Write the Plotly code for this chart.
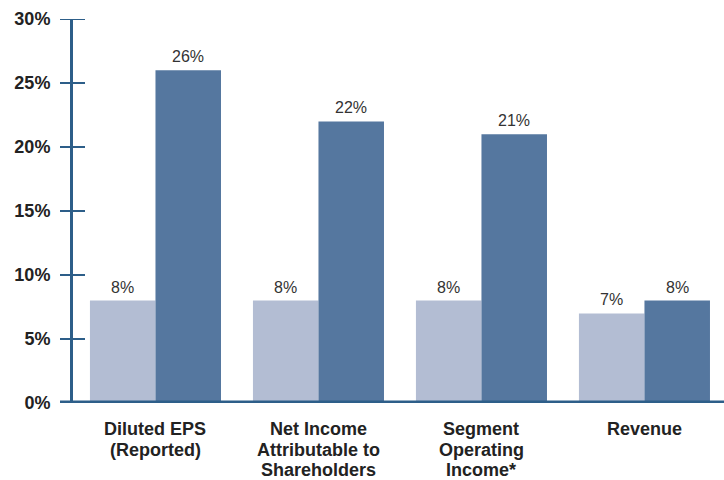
import plotly.graph_objects as go

categories = ["Diluted EPS (Reported)", "Net Income Attributable to Shareholders",
              "Segment Operating Income*", "Revenue"]
category_lines = [["Diluted EPS", "(Reported)"],
                  ["Net Income", "Attributable to", "Shareholders"],
                  ["Segment", "Operating", "Income*"],
                  ["Revenue"]]
prior_growth = [8, 8, 8, 7]
current_growth = [26, 22, 21, 8]
y_ticks = [0, 5, 10, 15, 20, 25, 30]

LIGHT = "#b3bdd3"
DARK = "#55779f"
AXIS = "#2d5e89"
FONT = "Liberation Sans, Arial, Helvetica, sans-serif"

fig = go.Figure()
fig.add_bar(x=list(range(len(categories))), y=prior_growth, name="Prior year",
            marker_color=LIGHT, marker_line_width=0)
fig.add_bar(x=list(range(len(categories))), y=current_growth, name="Current year",
            marker_color=DARK, marker_line_width=0)

# value labels above each bar
offsets = [-0.2, 0.2]
for off, series in zip(offsets, [prior_growth, current_growth]):
    for i, v in enumerate(series):
        fig.add_annotation(x=i + off, y=v, text=f"{v}%", showarrow=False,
                           yanchor="bottom", yshift=3,
                           font=dict(family=FONT, size=16, color="#333333"))

# multi-line category labels under the baseline
for i, lines in enumerate(category_lines):
    for k, line in enumerate(lines):
        fig.add_annotation(x=i, y=0, text=f"<b>{line}</b>", showarrow=False,
                           yanchor="middle", yshift=-(26 + 20.5 * k),
                           font=dict(family=FONT, size=18, color="#222222"))

# y-axis tick marks crossing the axis line
for t in y_ticks[1:]:
    fig.add_shape(type="line", xref="paper", yref="y", x0=-13 / 651, x1=12 / 651,
                  y0=t, y1=t, line=dict(color=AXIS, width=2))

# baseline
fig.add_shape(type="line", xref="paper", yref="y", x0=-13 / 651, x1=1, y0=0, y1=0,
              line=dict(color=AXIS, width=5))

fig.update_layout(
    width=724, height=480,
    margin=dict(l=73, r=0, t=19, b=77, autoexpand=False),
    barmode="group", bargap=0.196, bargroupgap=0,
    showlegend=False,
    plot_bgcolor="white", paper_bgcolor="white",
    font=dict(family=FONT),
)
fig.update_xaxes(range=[-0.506, 3.488], showgrid=False, showline=False, zeroline=False,
                 showticklabels=False, ticks="")
fig.update_yaxes(range=[0, 30], tickvals=y_ticks, ticktext=[f"{t}%" for t in y_ticks],
                 showgrid=False, zeroline=False, showline=True, linecolor=AXIS, linewidth=3,
                 ticks="outside", ticklen=16, tickcolor="rgba(0,0,0,0)", automargin=False,
                 tickfont=dict(family=FONT, size=18, color="#222222", weight="bold"))

fig.write_html("out.html")
